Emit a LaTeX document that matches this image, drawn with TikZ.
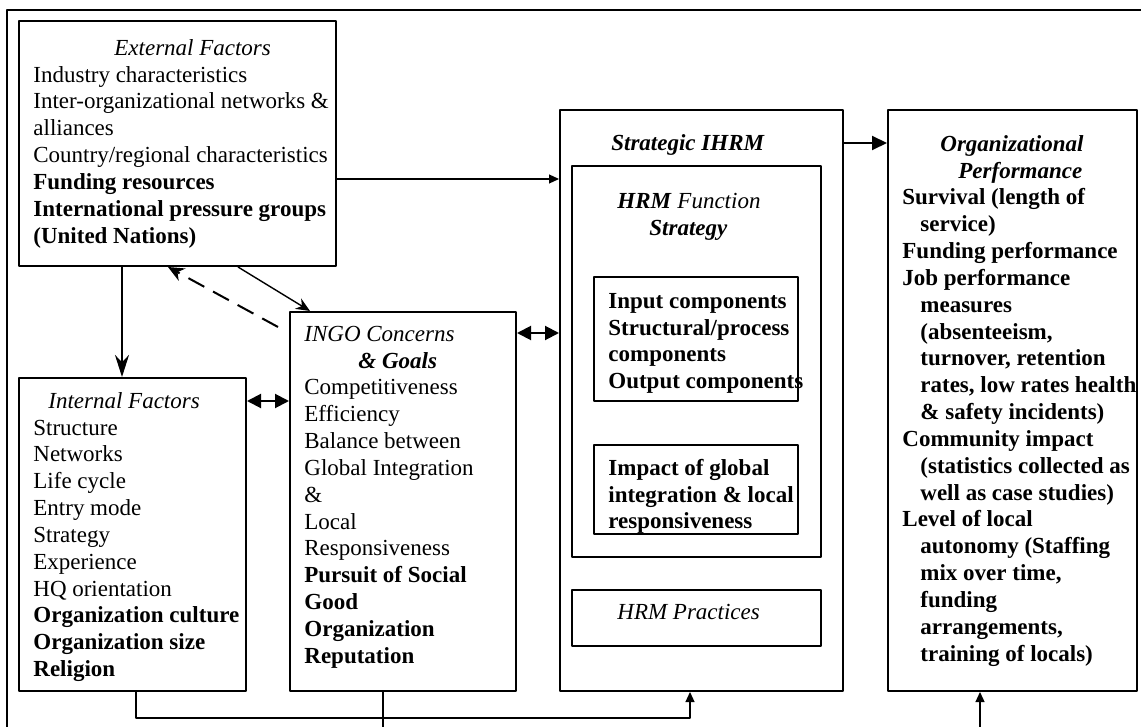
\documentclass[tikz,border=0pt]{standalone}
\usepackage{fontspec}
\setmainfont{Liberation Serif}
\usetikzlibrary{arrows.meta,fit}
\tikzset{
  box/.style={draw, line width=1pt, inner sep=0pt},
  txt/.style={anchor=north west, inner sep=0pt, align=left, font=\fontsize{11.5}{13.42}\selectfont},
  btxt/.style={txt, font=\fontsize{11.5}{13.42}\selectfont\bfseries},
  thinarr/.style={line width=0.6pt, -{Triangle[length=5pt,width=4.5pt]}},
  medarr/.style={line width=1pt, -{Triangle[length=7.5pt,width=7pt]}},
  stealtharr/.style={line width=1pt, -{Stealth[length=11pt,width=7pt]}},
  dbl/.style={line width=1pt, {Triangle[length=7pt,width=7pt]}-{Triangle[length=7pt,width=7pt]}}
}
\begin{document}
\begin{tikzpicture}[x=0.5pt, y=-0.5pt, line join=round]
\useasboundingbox (0,0) rectangle (1141,727);
\draw[line width=1pt] (7,727) -- (7,10) -- (1141,10);
\node[box, fit={(19,21) (336,266)}] (ext) {};
\node[box, fit={(19,378) (246,691)}] (int) {};
\node[box, fit={(290,312) (516,691)}] (ingo) {};
\node[box, fit={(560,110) (843,691)}] (strat) {};
\node[box, fit={(572,166) (821,557)}] (hrmf) {};
\node[box, fit={(594,277) (798,401)}] (inp) {};
\node[box, fit={(594,445) (798,534)}] (imp) {};
\node[box, fit={(572,590) (821,646)}] (prac) {};
\node[box, fit={(888,110) (1137,691)}] (perf) {};
\node[txt] (ext-t) at (33,36) {\strut\hspace*{40.5pt}\textit{External Factors}\\
  Industry characteristics\\ Inter-organizational networks \&\\ alliances\\
  Country/regional characteristics\\ \textbf{Funding resources}\\
  \textbf{International pressure groups}\\ \textbf{(United Nations)}};
\node[txt] (int-t) at (33,389) {\strut\hspace*{7.5pt}\textit{Internal Factors}\\
  Structure\\ Networks\\ Life cycle\\ Entry mode\\ Strategy\\ Experience\\ HQ orientation\\
  \textbf{Organization culture}\\ \textbf{Organization size}\\ \textbf{Religion}};
\node[txt] (ingo-t) at (304,322) {\strut\textit{INGO Concerns}\\
  \hspace*{27pt}\textbf{\textit{\& Goals}}\\ Competitiveness\\ Efficiency\\ Balance between\\
  Global Integration\\ \&\\ Local\\ Responsiveness\\ \textbf{Pursuit of Social}\\
  \textbf{Good}\\ \textbf{Organization}\\ \textbf{Reputation}};
\node[txt, anchor=north] (strat-t) at (688,131) {\strut\textbf{\textit{Strategic IHRM}}};
\node[txt] (hrmf-t) at (617,189) {\strut\textbf{\textit{HRM}} \textit{Function}\\
  \hspace*{16pt}\textbf{\textit{Strategy}}};
\node[btxt] (inp-t) at (608,289) {\strut Input components\\
  Structural/process\\ components\\ Output components};
\node[btxt] (imp-t) at (608,456) {\strut Impact of global\\
  integration \& local\\ responsiveness};
\node[txt] (prac-t) at (617,600) {\strut\textit{HRM Practices}};
\node[btxt] (perf-t) at (902,132) {\strut\hspace*{19pt}\textit{Organizational}\\
  \hspace*{28pt}\textit{Performance}\\ Survival (length of\\ \hspace*{9pt}service)\\
  Funding performance\\ Job performance\\ \hspace*{9pt}measures\\ \hspace*{9pt}(absenteeism,\\
  \hspace*{9pt}turnover, retention\\ \hspace*{9pt}rates, low rates health\\
  \hspace*{9pt}\& safety incidents)\\ Community impact\\ \hspace*{9pt}(statistics collected as\\
  \hspace*{9pt}well as case studies)\\ Level of local\\ \hspace*{9pt}autonomy (Staffing\\
  \hspace*{9pt}mix over time,\\ \hspace*{9pt}funding\\ \hspace*{9pt}arrangements,\\
  \hspace*{9pt}training of locals)};
\coordinate (dash-end) at (278,327);
\coordinate (low-corner) at (136,718);
\draw[thinarr] (ext.east |- 0,179) -- (strat.west |- 0,179);
\draw[medarr] (strat.east |- 0,143) -- (perf.west |- 0,143);
\draw[stealtharr] (ext.south -| 122,0) -- (int.north -| 122,0);
\draw[line width=1pt, dashed, dash pattern=on 9pt off 5pt, -{Stealth[length=8pt,width=7pt]}] (dash-end) -- (ext.south -| 168,0);
\draw[line width=0.7pt, -{Stealth[length=7pt,width=6pt]}] (ext.south -| 238,0) -- (ingo.north -| 310,0);
\draw[dbl] (int.east |- 0,401) -- (ingo.west |- 0,401);
\draw[dbl] (ingo.east |- 0,333) -- (strat.west |- 0,333);
\draw[thinarr] (int.south -| low-corner) -- (low-corner) -| (strat.south -| 690,0);
\draw[line width=0.6pt] (ingo.south -| 383,0) -- (383,727);
\draw[thinarr] (980,727) -- (perf.south -| 980,0);
\end{tikzpicture}
\end{document}
